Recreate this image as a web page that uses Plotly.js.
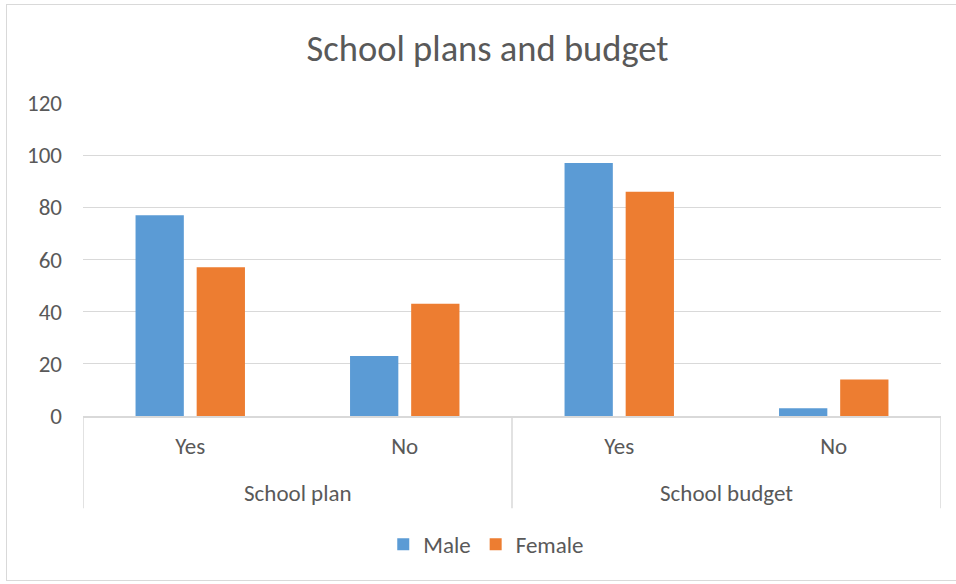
<!DOCTYPE html>
<html>
<head>
<meta charset="utf-8">
<script src="https://cdn.plot.ly/plotly-3.0.1.min.js"></script>
<style>
  html, body { margin: 0; padding: 0; background: #ffffff; }
  #wrap { position: relative; width: 956px; height: 584px; overflow: hidden; }
  #chart { width: 956px; height: 584px; }
  #frame { position: absolute; left: 6px; top: 4px; width: 960px; height: 577px;
           border: 1.5px solid #d9d9d9; pointer-events: none; box-sizing: border-box; }
</style>
</head>
<body>
<div id="wrap">
  <div id="chart"></div>
  <div id="frame"></div>
</div>
<script>
const groups = ["School plan", "School plan", "School budget", "School budget"];
const answers = ["Yes", "No", "Yes", "No"];
const male = [77, 23, 97, 3];
const female = [57, 43, 86, 14];
const seriesNames = ["Male", "Female"];
const yTicks = [0, 20, 40, 60, 80, 100, 120];

const FONT = "Carlito, Calibri, Lato, 'Liberation Sans', sans-serif";
const TXT = "#595959";
const GRID = "#d9d9d9";

// unique category ids, shown with the answer text
const catIds = groups.map((g, i) => g + " | " + answers[i]);

// parent groups (in order) and their category index spans
const parents = [];
groups.forEach((g, i) => {
  const last = parents[parents.length - 1];
  if (last && last.name === g) last.end = i; else parents.push({ name: g, start: i, end: i });
});

const traces = [
  { type: "bar", name: seriesNames[0], x: catIds, y: male,
    marker: { color: "#5B9BD5" }, hoverinfo: "y+name" },
  { type: "bar", name: seriesNames[1], x: catIds, y: female,
    marker: { color: "#ED7D31" }, hoverinfo: "y+name" }
];

// parent labels and dividers below the axis
const annotations = parents.map(p => ({
  text: p.name, xref: "x", yref: "paper", x: (p.start + p.end) / 2, y: -0.247,
  xanchor: "center", yanchor: "middle", showarrow: false,
  font: { family: FONT, size: 23, color: TXT }
}));
const dividerPos = [parents[0].start - 0.5].concat(parents.map(p => p.end + 0.5));
const shapes = dividerPos.map(xp => ({
  type: "line", xref: "x", yref: "paper", x0: xp, x1: xp, y0: 0, y1: -0.295,
  line: { color: GRID, width: 1.5 }, layer: "above"
}));

const layout = {
  width: 956, height: 584,
  paper_bgcolor: "#ffffff", plot_bgcolor: "#ffffff",
  margin: { l: 83, r: 15, t: 103, b: 168 },
  font: { family: FONT, color: TXT, size: 23 },
  title: { text: "School plans and budget", font: { family: FONT, size: 36.5, color: TXT },
           x: 0.51, xref: "container", xanchor: "center", y: 1 - 48 / 584, yref: "container", yanchor: "middle" },
  barmode: "group",
  bargap: 0.43,
  bargroupgap: 0.21,
  xaxis: {
    type: "category",
    categoryorder: "array", categoryarray: catIds,
    tickvals: catIds, ticktext: answers,
    range: [-0.5, catIds.length - 0.5],
    showgrid: false,
    showline: true, linecolor: GRID, linewidth: 1.5,
    tickfont: { family: FONT, size: 23, color: TXT },
    ticks: "", zeroline: false, ticklabelstandoff: 9
  },
  yaxis: {
    range: [0, 120],
    tickvals: yTicks,
    ticktext: yTicks.map(String),
    showgrid: true, gridcolor: GRID, gridwidth: 1.2,
    zeroline: false, showline: false,
    ticks: "", ticklabelstandoff: 20,
    tickfont: { family: FONT, size: 23, color: TXT }
  },
  annotations: annotations,
  shapes: shapes,
  showlegend: true,
  legend: { orientation: "h", x: 0.47, xanchor: "center", y: -0.41, yanchor: "middle",
            font: { family: FONT, size: 23, color: TXT }, traceorder: "normal" }
};

Plotly.newPlot("chart", traces, layout, { displayModeBar: false, staticPlot: true });
</script>
</body>
</html>
